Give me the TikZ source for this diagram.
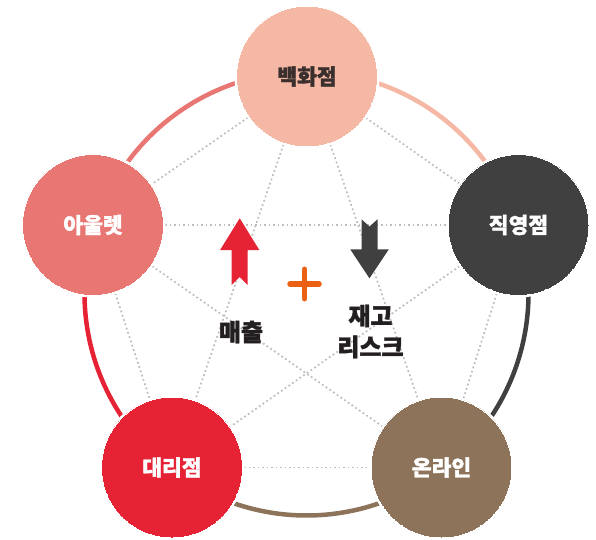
\documentclass[tikz,border=0pt]{standalone}
\usepackage{fontspec}
\newfontfamily\kr{Noto Sans CJK KR}[BoldFeatures={FakeBold=1.6}]
\definecolor{cdept}{HTML}{F4B8A4}
\definecolor{coutlet}{HTML}{E87672}
\definecolor{cdirect}{HTML}{404040}
\definecolor{cagency}{HTML}{E62335}
\definecolor{conline}{HTML}{8C735A}
\definecolor{cplus}{HTML}{EB6113}
\definecolor{ctext}{HTML}{231F20}
\definecolor{cdeptt}{HTML}{3A2F2D}
\definecolor{cdot}{HTML}{BDBDBD}
\tikzset{
  dotline/.style={draw=cdot,line width=1.7pt,dash pattern=on 1.8pt off 2.7pt},
  ring/.style={line width=4.5pt},
  hub/.style={circle,minimum size=141pt,inner sep=0pt,draw=white,line width=0pt},
  hubback/.style={circle,fill=white,minimum size=145pt,inner sep=0pt},
  hublabel/.style={font=\kr\bfseries\fontsize{21.5}{21.5}\selectfont},
  midlabel/.style={font=\kr\bfseries\fontsize{24}{31}\selectfont,text=ctext,align=center}
}
\begin{document}
\begin{tikzpicture}[x=1pt,y=1pt]
\useasboundingbox (0,0) rectangle (596,539);
% centres
\coordinate (bc) at (306.5,245.5);
\coordinate (pD) at (307,462.5);
\coordinate (pO) at (93,314);
\coordinate (pR) at (518.5,314);
\coordinate (pA) at (172,71.5);
\coordinate (pN) at (441.5,71.5);
% ring arcs
\draw[ring,cdept]   (bc) ++(90:222pt)   arc[start angle=90,end angle=17.9,radius=222pt];
\draw[ring,cdirect] (bc) ++(17.9:222pt) arc[start angle=17.9,end angle=-52.2,radius=222pt];
\draw[ring,conline] (bc) ++(-52.2:222pt) arc[start angle=-52.2,end angle=-127.7,radius=222pt];
\draw[ring,cagency] (bc) ++(232.3:222pt) arc[start angle=232.3,end angle=162.2,radius=222pt];
\draw[ring,coutlet] (bc) ++(162.2:222pt) arc[start angle=162.2,end angle=90,radius=222pt];
% dotted connections
\foreach \a/\b in {pD/pO,pD/pR,pD/pA,pD/pN,pO/pR,pO/pA,pO/pN,pR/pA,pR/pN,pA/pN}
  \draw[dotline] (\a) -- (\b);
% white halos
\foreach \p in {pD,pO,pR,pA,pN}
  \node[hubback] at (\p) {};
% hubs
\node[hub,fill=cdept,text=cdeptt,hublabel] (dept) at (pD) {백화점};
\node[hub,fill=coutlet,text=white,hublabel] (outlet) at (pO) {아울렛};
\node[hub,fill=cdirect,text=white,hublabel] (direct) at (pR) {직영점};
\node[hub,fill=cagency,text=white,hublabel] (agency) at (pA) {대리점};
\node[hub,fill=conline,text=white,hublabel] (online) at (pN) {온라인};
% arrows
\fill[cagency] (239.7,320.7) -- (259.3,289) -- (247.7,289) -- (247.7,254) -- (239.7,262) -- (231.7,254) -- (231.7,289) -- (220.1,289) -- cycle;
\fill[cdirect] (361.5,319.7) -- (369.5,312.5) -- (377.5,319.7) -- (377.5,289.7) -- (388.8,289.7) -- (369.5,260.7) -- (350.2,289.7) -- (361.5,289.7) -- cycle;
% plus
\coordinate (plusc) at (304.5,255);
\draw[cplus,line width=5.5pt,line cap=round] ([yshift=-14.7pt]plusc) -- ([yshift=14.7pt]plusc);
\draw[cplus,line width=5.5pt,line cap=round] ([xshift=-14.5pt]plusc) -- ([xshift=14.5pt]plusc);
% labels
\node[midlabel] (sales) at (241,207) {매출};
\node[midlabel] (risk) at (370.5,207.5) {재고\\리스크};
\end{tikzpicture}
\end{document}
